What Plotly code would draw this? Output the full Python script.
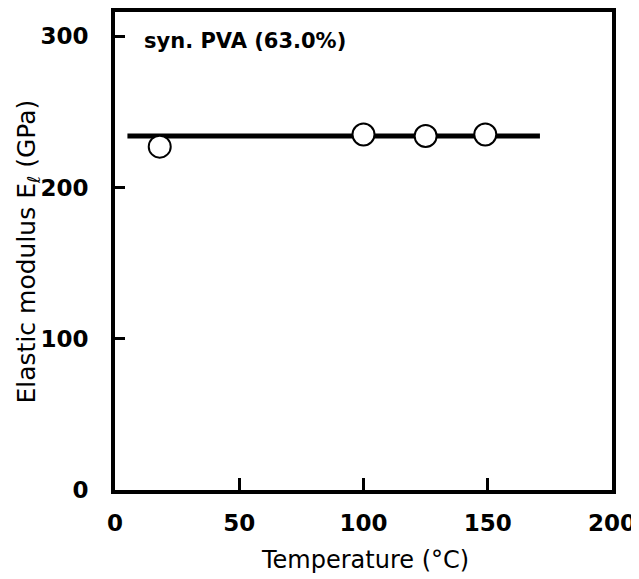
import plotly.graph_objects as go

temps = [18, 100, 125, 149]
moduli = [227, 235, 234, 235]
line_x = [5, 171]
line_y = [234, 234]
x_ticks = [0, 50, 100, 150, 200]
y_ticks = [0, 100, 200, 300]

fig = go.Figure()
fig.add_trace(go.Scatter(x=line_x, y=line_y, mode="lines",
                         line=dict(color="black", width=5), showlegend=False))
fig.add_trace(go.Scatter(x=temps, y=moduli, mode="markers",
                         marker=dict(symbol="circle", size=22, color="white",
                                     line=dict(color="black", width=2)),
                         showlegend=False))

fig.add_annotation(x=0.054, y=0.94, xref="paper", yref="paper",
                   text="syn. PVA (63.0%)", showarrow=False,
                   xanchor="left", yanchor="middle",
                   font=dict(family="DejaVu Sans", size=21, color="black", weight="bold"))

fig.add_annotation(x=0.503, y=-0.146, xref="paper", yref="paper",
                   text="Temperature (°C)", showarrow=False,
                   xanchor="center", yanchor="middle",
                   font=dict(family="DejaVu Sans", size=24, color="black"))

fig.add_annotation(x=-0.176, y=0.498, xref="paper", yref="paper",
                   text="Elastic modulus E<sub>ℓ</sub> (GPa)", showarrow=False,
                   textangle=-90, xanchor="center", yanchor="middle",
                   font=dict(family="DejaVu Sans", size=25, color="black"))

# page body has an 8px margin in the browser; figure sized to fit the window
fig.update_layout(
    width=631, height=571,
    margin=dict(l=107, r=27, t=4, b=89),
    paper_bgcolor="white", plot_bgcolor="white",
    font=dict(family="DejaVu Sans", color="black"),
    xaxis=dict(range=[0, 200], tickvals=x_ticks, ticks="inside", ticklen=12,
               tickwidth=3, tickcolor="black", showgrid=False, zeroline=False,
               showline=True, linewidth=4, linecolor="black", mirror=True,
               tickfont=dict(size=23, weight="bold"), ticklabelstandoff=9,
               automargin=False),
    yaxis=dict(range=[0, 316], tickvals=y_ticks, ticks="inside", ticklen=10,
               tickwidth=3, tickcolor="black", showgrid=False, zeroline=False,
               showline=True, linewidth=4, linecolor="black", mirror=True,
               tickfont=dict(size=23, weight="bold"), ticklabelstandoff=18,
               automargin=False),
)

fig.write_html("out.html")
